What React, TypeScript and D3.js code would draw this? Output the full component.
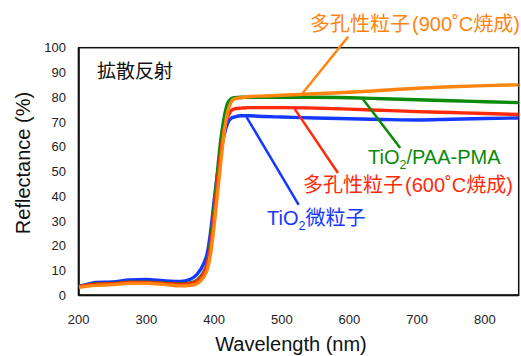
import React from "react";
import * as d3 from "d3";

const wavelengths = [200, 210, 225, 250, 275, 300, 325, 350, 365, 375, 385, 390, 395, 400, 405, 410, 415, 420, 425, 430, 440, 450, 475, 500, 550, 600, 650, 700, 750, 800, 850];
const blueVals = [3.6, 4.2, 5.2, 5.4, 6.2, 6.4, 5.9, 5.6, 6.5, 8.5, 13, 17, 26, 38, 49, 58, 65, 69.5, 71.5, 72, 72.5, 72.5, 72.2, 72, 71.6, 71.3, 71, 70.8, 71.1, 71.4, 71.6];
const greenVals = [3.5, 4.0, 4.6, 4.8, 5.3, 5.3, 5.0, 4.6, 5.0, 6.2, 9.5, 13, 22, 35, 50, 63, 72, 77.5, 79.3, 79.8, 80, 80, 80, 80, 80, 79.8, 79.4, 79, 78.6, 78.2, 77.8];
const redVals = [3.6, 4.0, 4.5, 4.7, 5.2, 5.2, 4.8, 4.4, 4.8, 5.8, 9, 13, 20, 32, 46, 58, 67, 72, 74.5, 75.3, 75.6, 75.8, 75.8, 75.8, 75.6, 75.2, 74.7, 74.2, 73.8, 73.4, 73.0];
const orangeVals = [3.2, 3.6, 4.0, 4.3, 4.8, 4.8, 4.4, 3.8, 4.0, 4.8, 7.5, 10.5, 17, 28, 41, 54, 66, 74, 78, 79.3, 79.8, 80.2, 80.5, 80.8, 81.4, 82, 82.8, 83.6, 84.2, 84.7, 85];

const xTicks = [200, 300, 400, 500, 600, 700, 800];
const yTicks = [0, 10, 20, 30, 40, 50, 60, 70, 80, 90, 100];

const series = [
  { name: "blue", values: blueVals, color: "#1438ff" },
  { name: "green", values: greenVals, color: "#0a8a0a" },
  { name: "red", values: redVals, color: "#ff2a0a" },
  { name: "orange", values: orangeVals, color: "#ff8410" },
];

// leader lines in data coords: [wl, value] -> [wl, value]
const leaders = [
  { color: "#ff8410", from: [531, 81.7], to: [598, 104.4] },
  { color: "#0a8a0a", from: [620, 79.2], to: [675, 59.5] },
  { color: "#ff2a0a", from: [519, 75.3], to: [583, 49.4] },
  { color: "#1438ff", from: [448, 72.0], to: [525, 36.5] },
];

const W = 521, H = 356;
const M = { left: 78.7, right: 518.7, top: 47.7, bottom: 295.3 };
const FONT = "'Liberation Sans', Arial, 'Noto Sans CJK JP', sans-serif";

export default function App() {
  const x = d3.scaleLinear().domain([200, 850]).range([M.left, M.right]);
  const y = d3.scaleLinear().domain([0, 100]).range([M.bottom, M.top]);
  const line = d3
    .line<number>()
    .x((_, i) => x(wavelengths[i]))
    .y((d) => y(d))
    .curve(d3.curveMonotoneX);

  return (
    <svg width={W} height={H} style={{ position: "absolute", left: 0, top: 0, fontFamily: FONT }}>
      <rect width={W} height={H} fill="#fff" />
      <defs>
        <clipPath id="plot">
          <rect x={M.left} y={M.top} width={M.right - M.left} height={M.bottom - M.top} />
        </clipPath>
      </defs>
      {/* frame */}
      <rect x={M.left} y={M.top} width={M.right - M.left} height={M.bottom - M.top} fill="none" stroke="#111" strokeWidth={1.5} />
      <line x1={M.left} x2={M.left} y1={M.top} y2={M.bottom} stroke="#111" strokeWidth={2} />
      <line x1={M.left} x2={M.right} y1={M.bottom} y2={M.bottom} stroke="#111" strokeWidth={2} />

      {/* ticks */}
      {yTicks.map((t) => (
        <text key={t} x={66} y={y(t)} dy="0.35em" textAnchor="end" fontSize={13} fill="#222">
          {t}
        </text>
      ))}
      {xTicks.map((t) => (
        <text key={t} x={x(t)} y={319} dy="0.35em" textAnchor="middle" fontSize={13} fill="#222">
          {t}
        </text>
      ))}

      {/* axis titles */}
      <text transform="translate(30,163) rotate(-90)" textAnchor="middle" fontSize={20} fill="#111">
        Reflectance (%)
      </text>
      <text x={291} y={351} textAnchor="middle" fontSize={20} fill="#111">
        Wavelength (nm)
      </text>

      {/* curves */}
      <g clipPath="url(#plot)">
        {series.map((s) => (
          <path key={s.name} d={line(s.values) || ""} fill="none" stroke={s.color} strokeWidth={3.4} strokeLinejoin="round" />
        ))}
      </g>

      {/* leaders */}
      {leaders.map((l, i) => (
        <line key={i} x1={x(l.from[0])} y1={y(l.from[1])} x2={x(l.to[0])} y2={y(l.to[1])} stroke={l.color} strokeWidth={2.5} />
      ))}

      {/* title */}
      <text x={97} y={78} fontSize={19} fill="#111">拡散反射</text>

      {/* labels */}
      <text x={310} y={31} fontSize={20} fill="#ff8410">
        多孔性粒子<tspan dx={2}>(900˚C焼成)</tspan>
      </text>
      <text x={368} y={164} fontSize={20} fill="#0a8a0a">
        TiO<tspan fontSize={12.5} dy={5}>2</tspan>
        <tspan dy={-5}>/PAA-PMA</tspan>
      </text>
      <text x={303} y={192} fontSize={20} fill="#ff2a0a">
        多孔性粒子<tspan dx={2}>(600˚C焼成)</tspan>
      </text>
      <text x={267} y={225} fontSize={20} fill="#1438ff">
        TiO<tspan fontSize={12.5} dy={5}>2</tspan>
        <tspan dy={-5}>微粒子</tspan>
      </text>
    </svg>
  );
}
